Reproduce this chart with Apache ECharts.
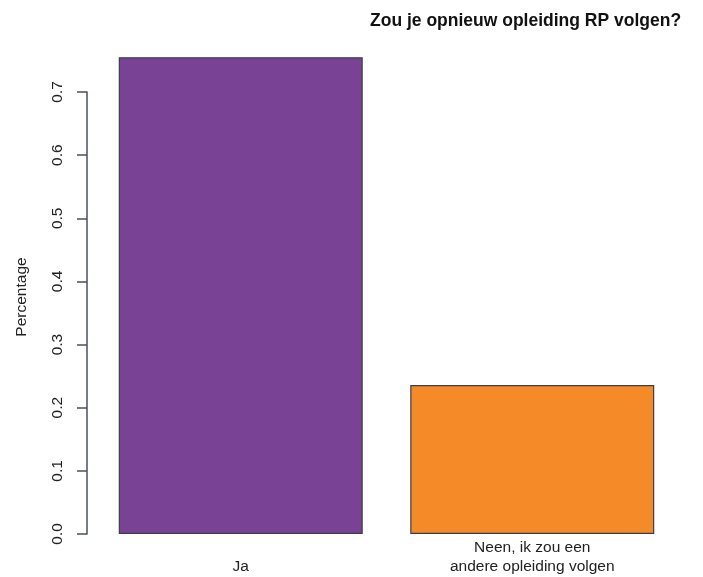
<!DOCTYPE html>
<html><head><meta charset="utf-8">
<script src="https://cdn.jsdelivr.net/npm/echarts@6/dist/echarts.min.js"></script>
<style>html,body{margin:0;padding:0;background:#fff}#c{width:703px;height:577px}</style>
</head><body><div id="c"></div>
<script>
const categories = ["Ja", "Neen, ik zou een\nandere opleiding volgen"];
const values = [0.755, 0.236];
const barColors = ["#7A4294", "#F58A28"];
const titleText = "Zou je opnieuw opleiding RP volgen?";
const yName = "Percentage";

const chart = echarts.init(document.getElementById('c'), null, {renderer:'canvas'});
const FF = '"Liberation Sans", Arial, Helvetica, sans-serif';
chart.setOption({
  animation: false,
  backgroundColor: '#fff',
  title: {text: titleText, left: 365, top: 7,
    textStyle:{fontFamily:FF, fontSize:17.5, fontWeight:'bold', color:'#111'}},
  graphic: [{type:'text', x:22, y:297, rotation: Math.PI/2,
    style:{text: yName, font: '15.5px ' + FF, fill:'#222', textAlign:'center', textVerticalAlign:'middle'}}],
  grid: {left: 95, width: 583, top: 92, bottom: 43, containLabel: false},
  xAxis: {type:'category', data: categories,
    axisLine:{show:false}, axisTick:{show:false},
    axisLabel:{fontFamily:FF, fontSize:15.5, color:'#222', verticalAlign:'bottom', margin:42, lineHeight:19, interval:0}},
  yAxis: {type:'value', min:0, max:0.7, interval:0.1, offset: 8,
    splitLine:{show:false},
    axisLine:{show:true, lineStyle:{color:'#4a505c', width:1.5}},
    axisTick:{show:true, length:10, lineStyle:{color:'#4a505c', width:1.5}},
    axisLabel:{fontFamily:FF, fontSize:15.5, color:'#222', rotate:90, margin:21,
      formatter: v => v.toFixed(1)}},
  series: [{type:'bar', clip:false, barCategoryGap:'16.3%',
    data: values.map((v,i)=>({value:v, itemStyle:{color:barColors[i]}})),
    itemStyle:{borderColor:'#3a3f4a', borderWidth:1.2}}]
});
</script></body></html>
